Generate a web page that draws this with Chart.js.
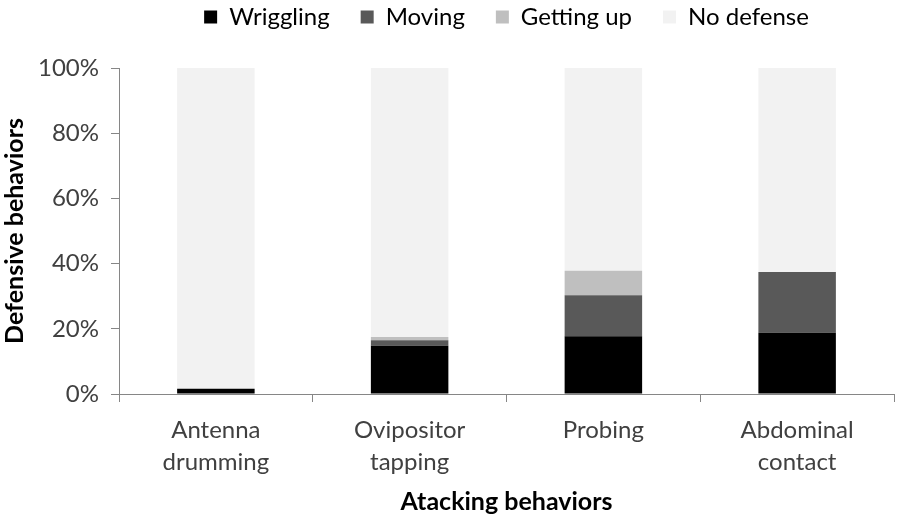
<!DOCTYPE html>
<html lang="en">
<head>
    <meta charset="UTF-8">
    <title>Defensive behaviors</title>
    <script src="https://cdn.jsdelivr.net/npm/chart.js"></script>
    <style>
        html, body { margin: 0; padding: 0; background: #ffffff; }
        #box { width: 897px; height: 517px; }
    </style>
</head>
<body>
    <div id="box">
        <canvas id="grafico"></canvas>
    </div>

<script>
    // categorias (ataques)
    const categorias = [
        ["Antenna", "drumming"],
        ["Ovipositor", "tapping"],
        "Probing",
        ["Abdominal", "contact"]
    ];

    // percentagens
    const wriggling = [1.6, 14.8, 17.7, 18.8];
    const moving = [0, 1.7, 12.6, 18.6];
    const gettingUp = [0, 1.0, 7.5, 0];
    const noDefense = [98.4, 82.5, 62.2, 62.6];

    const yTicks = [0, 20, 40, 60, 80, 100];

    const fonte = "Lato, 'DejaVu Sans', sans-serif";
    const cinzaEixo = "#868686";

    // altura fixa da legenda e legenda centrada sobre a area do grafico
    const legendaAltura = {
        id: 'legendaAltura',
        beforeInit(chart) {
            const fitOriginal = chart.legend.fit;
            chart.legend.fit = function () {
                fitOriginal.call(this);
                this.height = 94;
            };
        },
        afterLayout(chart) {
            chart.legend.left = chart.chartArea.left;
            chart.legend.right = chart.chartArea.right;
        }
    };

    const dados = {
        labels: categorias,
        datasets: [
            { label: "Wriggling", data: wriggling, backgroundColor: "#000000" },
            { label: "Moving", data: moving, backgroundColor: "#595959" },
            { label: "Getting up", data: gettingUp, backgroundColor: "#bfbfbf" },
            { label: "No defense", data: noDefense, backgroundColor: "#f2f2f2" }
        ]
    };

    const config = {
        type: "bar",
        data: dados,
        options: {
            responsive: true,
            maintainAspectRatio: false,
            animation: false,
            layout: { padding: { top: -26, right: 3, left: 0, bottom: 0 } },
            datasets: {
                bar: {
                    categoryPercentage: 1,
                    barPercentage: 0.4,
                    borderWidth: 0
                }
            },
            scales: {
                x: {
                    stacked: true,
                    grid: {
                        offset: true,
                        drawOnChartArea: false,
                        color: cinzaEixo,
                        tickLength: 8
                    },
                    border: { color: cinzaEixo, width: 1 },
                    ticks: {
                        color: "#404040",
                        font: { family: fonte, size: 24, lineHeight: 1.33 },
                        padding: 12,
                        maxRotation: 0
                    },
                    title: {
                        display: true,
                        text: "Atacking behaviors",
                        color: "#000000",
                        font: { family: fonte, size: 25, weight: "bold" },
                        padding: { top: 0, bottom: 0 }
                    },
                    afterFit(scale) { scale.height = 123; }
                },
                y: {
                    stacked: true,
                    min: 0,
                    max: 100,
                    afterBuildTicks(scale) {
                        scale.ticks = yTicks.map(v => ({ value: v }));
                    },
                    grid: {
                        drawOnChartArea: false,
                        color: cinzaEixo,
                        tickLength: 8
                    },
                    border: { color: cinzaEixo, width: 1 },
                    ticks: {
                        color: "#404040",
                        font: { family: fonte, size: 24 },
                        padding: 12,
                        callback: v => v + "%"
                    },
                    title: {
                        display: true,
                        text: "Defensive behaviors",
                        color: "#000000",
                        font: { family: fonte, size: 25, weight: "bold" },
                        padding: { top: 0, bottom: 4 }
                    },
                    afterFit(scale) { scale.width = 119; }
                }
            },
            plugins: {
                legend: {
                    display: true,
                    position: "top",
                    labels: {
                        color: "#000000",
                        font: { family: fonte, size: 24 },
                        boxWidth: 13,
                        boxHeight: 13,
                        padding: 31
                    }
                },
                tooltip: { enabled: false }
            }
        },
        plugins: [legendaAltura]
    };

    var myChart = new Chart(document.getElementById("grafico"), config);
</script>
</body>
</html>
